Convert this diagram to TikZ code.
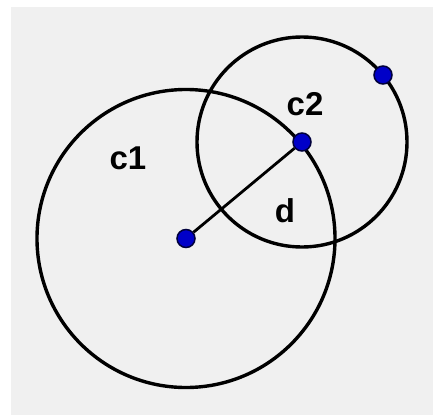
\documentclass[tikz,border=0pt]{standalone}
\usepackage{fontspec}
\setmainfont{Liberation Sans}
\definecolor{bg}{HTML}{F0F0F0}
\definecolor{ptblue}{HTML}{0000C8}
\definecolor{ptedge}{HTML}{00003C}
\tikzset{
  circ/.style={draw=black, line width=3.4pt},
  seg/.style={draw=black, line width=2.8pt},
  pt/.style={circle, fill=ptblue, draw=ptedge, line width=1.5pt, minimum size=18pt, inner sep=0pt},
  lbl/.style={font=\fontsize{33}{38}\selectfont\bfseries, inner sep=0pt, text=black}
}
\begin{document}
\begin{tikzpicture}[x=1pt,y=-1pt]
\useasboundingbox (0,0) rectangle (433,415);
\fill[white] (0,0) rectangle (433,415);
\fill[bg] (11,7) rectangle (433,415);
\coordinate (A) at (186,238.5);
\coordinate (B) at (302,142);
\draw[circ] (A) circle (149);
\draw[circ] (B) circle (105);
\node[pt] (a) at (A) {};
\node[pt] (b) at (B) {};
\node[pt] (p) at (383,75) {};
\draw[seg] (a) -- (b);
\node[lbl] (c1) at (128,158) {c1};
\node[lbl] (c2) at (305,104) {c2};
\node[lbl] (d) at (285,211) {d};
\end{tikzpicture}
\end{document}
